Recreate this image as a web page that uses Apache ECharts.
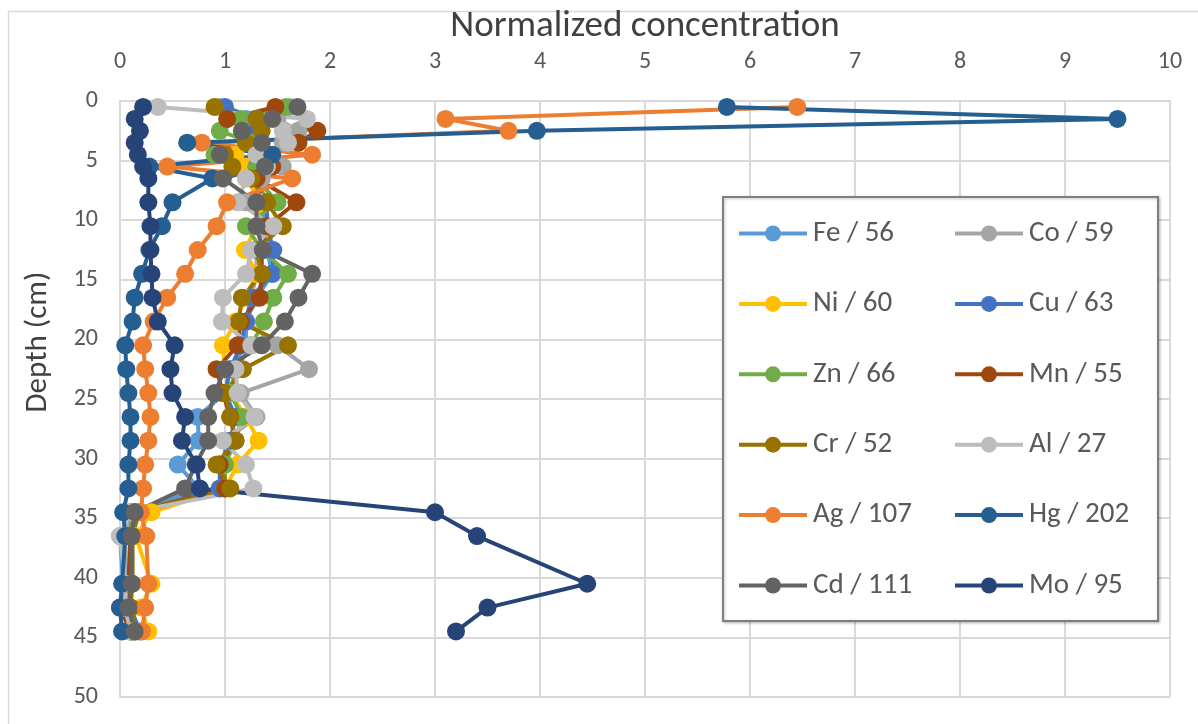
<!DOCTYPE html>
<html>
<head>
<meta charset="utf-8">
<script src="https://cdn.jsdelivr.net/npm/echarts@6/dist/echarts.min.js"></script>
<style>
  html, body { margin: 0; padding: 0; background: #ffffff; }
  #chart { width: 1198px; height: 724px; }
</style>
</head>
<body>
<div id="chart"></div>
<script>
// Sampling depths (cm) of the core slices
const depths = [0.5, 1.5, 2.5, 3.5, 4.5, 5.5, 6.5, 8.5, 10.5, 12.5, 14.5, 16.5, 18.5,
  20.5, 22.5, 24.5, 26.5, 28.5, 30.5, 32.5, 34.5, 36.5, 40.5, 42.5, 44.5];

// Normalized concentration per element, one value per depth
const fe = [0.95, 1.2, 1.25, 1.2, 1.3, 1.35, 1.3, 1.4, 1.35, 1.4, 1.45, 1.3, 1.2, 1.2, 1.05, 1.0, 0.74, 0.75, 0.55, 0.75, 0.1, 0.0, 0.03, 0.05, 0.12];
const co = [1.62, 1.5, 1.7, 1.55, 1.4, 1.55, 1.35, 1.2, 1.4, 1.3, 1.3, 1.25, 1.2, 1.5, 1.8, 1.15, 1.3, 1.0, 1.0, 0.95, 0.12, 0.05, 0.06, 0.06, 0.1];
const ni = [0.92, 1.3, 1.3, 1.3, 1.1, 1.2, 1.2, 1.35, 1.3, 1.19, 1.3, 1.2, 1.1, 0.98, 1.0, 1.05, 1.2, 1.32, 1.12, 1.0, 0.3, 0.15, 0.3, 0.2, 0.27];
const cu = [1.0, 1.3, 1.3, 1.25, 1.35, 1.3, 1.25, 1.4, 1.4, 1.46, 1.45, 1.25, 1.2, 1.15, 1.05, 1.0, 1.1, 1.05, 0.95, 0.95, 0.12, 0.1, 0.1, 0.1, 0.19];
const zn = [1.58, 1.15, 0.95, 1.25, 0.9, 1.3, 1.3, 1.5, 1.2, 1.35, 1.6, 1.46, 1.37, 1.25, 1.1, 1.05, 1.16, 1.1, 1.0, 1.0, 0.12, 0.1, 0.1, 0.08, 0.12];
const mn = [1.48, 1.02, 1.88, 1.7, 1.35, 1.45, 1.3, 1.68, 1.4, 1.35, 1.35, 1.33, 1.15, 1.12, 0.92, 0.98, 1.05, 1.1, 0.95, 1.0, 0.15, 0.1, 0.08, 0.0, 0.1];
const cr = [0.9, 1.3, 1.35, 1.2, 1.0, 1.07, 1.25, 1.4, 1.55, 1.3, 1.35, 1.16, 1.13, 1.6, 1.17, 1.0, 1.05, 1.1, 0.92, 1.05, 0.18, 0.12, 0.12, 0.1, 0.15];
const al = [0.36, 1.78, 1.55, 1.6, 1.3, 1.4, 1.2, 1.12, 1.46, 1.25, 1.2, 0.98, 0.97, 1.25, 1.1, 1.12, 1.28, 0.98, 1.2, 1.27, 0.1, 0.0, 0.05, 0.05, 0.1];
const ag = [6.45, 3.1, 3.7, 0.78, 1.83, 0.45, 1.64, 1.02, 0.92, 0.74, 0.62, 0.45, 0.32, 0.22, 0.24, 0.27, 0.29, 0.27, 0.24, 0.22, 0.2, 0.25, 0.27, 0.24, 0.21];
const hg = [5.78, 9.5, 3.97, 0.64, 1.45, 0.28, 0.88, 0.5, 0.4, 0.28, 0.21, 0.14, 0.12, 0.05, 0.06, 0.08, 0.1, 0.1, 0.08, 0.08, 0.03, 0.05, 0.02, 0.0, 0.02];
const cd = [1.69, 1.45, 1.16, 1.35, 0.95, 1.38, 0.98, 1.3, 1.3, 1.36, 1.83, 1.7, 1.57, 1.35, 1.0, 0.9, 0.84, 0.84, 0.72, 0.62, 0.14, 0.11, 0.11, 0.08, 0.14];
const mo = [0.22, 0.14, 0.19, 0.14, 0.17, 0.22, 0.27, 0.27, 0.29, 0.29, 0.3, 0.31, 0.36, 0.52, 0.48, 0.5, 0.62, 0.59, 0.73, 0.76, 3.0, 3.4, 4.45, 3.5, 3.2];

// Legend labels, drawing order and colours
const seriesNames = ['Fe / 56', 'Co / 59', 'Ni / 60', 'Cu / 63', 'Zn / 66', 'Mn / 55',
  'Cr / 52', 'Al / 27', 'Ag / 107', 'Hg / 202', 'Cd / 111', 'Mo / 95'];
const seriesValues = [fe, co, ni, cu, zn, mn, cr, al, ag, hg, cd, mo];
const seriesColors = ['#5B9BD5', '#A5A5A5', '#FFC000', '#4472C4', '#70AD47', '#9E480E',
  '#997300', '#BDBDBD', '#ED7D31', '#255E91', '#636363', '#264478'];

const leftColumn = ['Fe / 56', 'Ni / 60', 'Zn / 66', 'Cr / 52', 'Ag / 107', 'Cd / 111'];
const rightColumn = ['Co / 59', 'Cu / 63', 'Mn / 55', 'Al / 27', 'Hg / 202', 'Mo / 95'];

const FONT = 'Carlito, Lato, "Open Sans", sans-serif';

const chart = echarts.init(document.getElementById('chart'), null, { renderer: 'canvas' });

const series = seriesNames.map((name, i) => ({
  name: name,
  type: 'line',
  data: seriesValues[i].map((v, k) => [v, depths[k]]),
  symbol: 'circle',
  symbolSize: 18,
  color: seriesColors[i],
  lineStyle: { width: 4, color: seriesColors[i] },
  itemStyle: { color: seriesColors[i] },
  emphasis: { disabled: true },
  animation: false,
  z: 2
}));

const legendCommon = {
  orient: 'vertical',
  top: 219,
  padding: 0,
  itemWidth: 68,
  itemHeight: 20,
  itemGap: 41.4,
  textStyle: { fontFamily: FONT, fontSize: 29, color: '#595959', lineHeight: 26, padding: [0, 0, 0, 1] },
  lineStyle: { width: 4 },
  selectedMode: false,
  z: 5
};

chart.setOption({
  backgroundColor: '#ffffff',
  animation: false,
  grid: { left: 120, right: 28, top: 101, bottom: 27, containLabel: false },
  xAxis: {
    type: 'value',
    position: 'top',
    min: 0, max: 10, interval: 1,
    name: 'Normalized concentration',
    nameLocation: 'middle',
    nameGap: 52,
    nameTextStyle: { fontFamily: FONT, fontSize: 37, color: '#404040' },
    axisLine: { show: true, lineStyle: { color: '#D9D9D9', width: 2 } },
    axisTick: { show: false },
    axisLabel: { margin: 27, fontFamily: FONT, fontSize: 24, color: '#595959' },
    splitLine: { show: true, lineStyle: { color: '#D9D9D9', width: 2 } }
  },
  yAxis: {
    type: 'value',
    inverse: true,
    min: 0, max: 50, interval: 5,
    axisLine: { show: true, lineStyle: { color: '#D9D9D9', width: 2 } },
    axisTick: { show: false },
    axisLabel: { margin: 22, fontFamily: FONT, fontSize: 24, color: '#595959' },
    splitLine: { show: true, lineStyle: { color: '#D9D9D9', width: 2 } }
  },
  legend: [
    Object.assign({}, legendCommon, { left: 737, data: leftColumn }),
    Object.assign({}, legendCommon, { left: 953, data: rightColumn })
  ],
  graphic: [
    {
      type: 'rect',
      left: 6, top: 9,
      shape: { width: 1200, height: 730 },
      style: { fill: 'none', stroke: '#D9D9D9', lineWidth: 1.5 },
      z: 0, silent: true
    },
    {
      type: 'rect',
      left: 722, top: 196,
      shape: { width: 435, height: 424 },
      style: { fill: '#ffffff', stroke: '#7F7F7F', lineWidth: 2,
        shadowBlur: 3, shadowColor: 'rgba(0,0,0,0.25)', shadowOffsetX: 1, shadowOffsetY: 1 },
      z: 3, silent: true
    },
    {
      // vertical axis title
      type: 'text',
      x: 38, y: 342,
      rotation: Math.PI / 2,
      style: { text: 'Depth (cm)', fontFamily: FONT, fontSize: 31, fill: '#404040',
        align: 'center', verticalAlign: 'middle' },
      z: 4, silent: true
    }
  ],
  series: series
});
</script>
</body>
</html>
